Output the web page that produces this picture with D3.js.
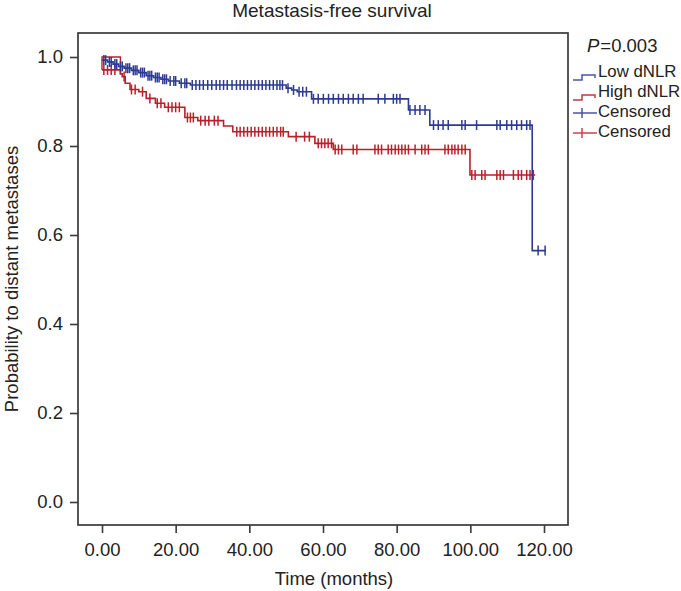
<!DOCTYPE html>
<html><head><meta charset="utf-8">
<script src="https://cdn.jsdelivr.net/npm/d3@7"></script>
<style>body{margin:0;background:#fff}svg{display:block}text{font-family:"Liberation Sans",Arial,sans-serif;fill:#222}</style>
</head><body><svg id="c" width="681" height="591"></svg>
<script>
// ---- data ----
const xTicks = [0, 20, 40, 60, 80, 100, 120];
const yTicks = [0, 0.2, 0.4, 0.6, 0.8, 1.0];
// Low dNLR: [time, survival]
const lowSteps = [[0,0.993],[1.5,0.989],[3,0.984],[4.5,0.979],[6,0.975],[8,0.970],[10,0.965],[12,0.958],[14,0.954],[16,0.950],[18,0.946],[21,0.941],[24,0.937],[50,0.930],[51.5,0.926],[53,0.922],[56.9,0.906],[83.2,0.881],[89,0.847],[116.8,0.565]];
const lowEnd = 120.5;
const lowCensor = [0.5,1,2,2.5,3.5,4,5,5.5,6.5,7,7.5,8.5,9,9.5,10.5,11,11.5,12.5,13,13.5,14.5,15,15.5,16.5,17,17.5,18.5,19.5,20,21.5,22.5,23,
  24.5,25.5,26.5,27.5,28.7,29.8,31,32,33,34,35.3,36.5,37.5,38.5,39.5,40.5,41.5,42.5,43.5,44.5,45.5,46.5,47.5,48.3,49,50.5,52,53.5,54.5,55.5,
  57.4,58.7,60.1,61.5,62.8,64.2,65.5,66.9,68.2,69.6,70.9,75.0,76.8,79.1,80.0,80.9,
  83.6,85.0,86.3,87.7,90.0,91.3,92.6,94.0,97.7,98.6,101.7,107.2,108.1,109.9,111.2,112.6,113.9,115.3,116.2,118.4,120.3];
// High dNLR
const highStart = 1.0, highStartEnd = 5;
const highSteps = [[0,0.971],[5,0.962],[5.5,0.956],[6.3,0.941],[7.6,0.927],[10,0.922],[12,0.907],[14.5,0.896],[17,0.887],[22.5,0.864],[26,0.857],[33,0.845],[35.5,0.832],[50.6,0.821],[57.8,0.806],[62.8,0.792],[99.9,0.735]];
const highEnd = 117.6;
const highCensor = [0.5,1.5,2.5,3.5,6,8,9,11,13,15,16,18,19,20,21,23.2,24,24.8,26.8,28,29,30.5,31.5,
  36.6,37.5,38.5,39.5,40.5,41.5,42.5,43.5,44.5,45.5,46.5,47.5,48.5,49.2,52.7,55,56.3,58.7,59.6,60.5,61.4,62.3,
  63.3,64.2,65.1,68.2,69.2,74.1,75.0,75.9,77.7,78.6,79.6,80.5,81.4,82.3,83.2,85.0,86.8,87.7,88.6,93.1,94.0,95.0,95.8,96.7,97.7,98.6,
  100.4,101.3,103.1,104.0,107.2,108.1,109.0,111.7,113.0,113.9,115.3,116.2,117.1];
const legendItems = ["Low dNLR", "High dNLR", "Censored", "Censored"];
const pValue = "0.003";

// ---- drawing ----
const svg = d3.select("#c");
const x = d3.scaleLinear().domain([0, 120]).range([102, 544]);
const y = d3.scaleLinear().domain([0, 1]).range([502, 57]);
const box = {l: 78, t: 33, r: 568, b: 525};
const blue = "#2d3a92", red = "#bb1f2b";

svg.append("rect").attr("x", box.l).attr("y", box.t).attr("width", box.r - box.l).attr("height", box.b - box.t)
  .attr("fill", "none").attr("stroke", "#3a3a3a").attr("stroke-width", 1.7);

const gx = svg.append("g").attr("transform", `translate(0,${box.b})`)
  .call(d3.axisBottom(x).tickValues(xTicks).tickFormat(d3.format(".2f")).tickSize(8).tickPadding(10));
const gy = svg.append("g").attr("transform", `translate(${box.l},0)`)
  .call(d3.axisLeft(y).tickValues(yTicks).tickFormat(d3.format(".1f")).tickSize(8).tickPadding(7));
[gx, gy].forEach(g => {
  g.select(".domain").remove();
  g.selectAll("line").attr("stroke", "#3a3a3a").attr("stroke-width", 1.6);
  g.selectAll("text").attr("font-size", 18.5).attr("fill", "#222").style("font-family", '"Liberation Sans",Arial,sans-serif');
});

svg.append("text").attr("x", 332).attr("y", 17).attr("text-anchor", "middle").attr("font-size", 19).text("Metastasis-free survival");
svg.append("text").attr("x", 334).attr("y", 585).attr("text-anchor", "middle").attr("font-size", 18.5).text("Time (months)");
svg.append("text").attr("transform", "translate(18,279) rotate(-90)").attr("text-anchor", "middle").attr("font-size", 18.5).text("Probability to distant metastases");

function stepPath(steps, end) {
  let p = `M${x(steps[0][0])},${y(steps[0][1])}`;
  for (let i = 1; i < steps.length; i++) p += `H${x(steps[i][0])}V${y(steps[i][1])}`;
  return p + `H${x(end)}`;
}
function survAt(steps, t) {
  let s = steps[0][1];
  for (const st of steps) if (st[0] <= t) s = st[1];
  return s;
}
function drawCurve(steps, end, censor, color) {
  svg.append("path").attr("d", stepPath(steps, end)).attr("fill", "none").attr("stroke", color).attr("stroke-width", 1.6);
  svg.append("g").selectAll("line").data(censor).join("line")
    .attr("x1", d => x(d)).attr("x2", d => x(d))
    .attr("y1", d => y(survAt(steps, d)) - 5).attr("y2", d => y(survAt(steps, d)) + 5)
    .attr("stroke", color).attr("stroke-width", 1.5);
}
// High dNLR initial box
svg.append("path").attr("d", `M${x(0)},${y(highSteps[0][1])}V${y(highStart)}H${x(highStartEnd)}V${y(highSteps[1][1])}`)
  .attr("fill", "none").attr("stroke", red).attr("stroke-width", 1.4);
drawCurve(highSteps, highEnd, highCensor, red);
drawCurve(lowSteps, lowEnd, lowCensor, blue);

// legend
const lg = svg.append("g");
const pt = lg.append("text").attr("x", 587).attr("y", 52).attr("font-size", 18.5);
pt.append("tspan").attr("font-style", "italic").text("P");
pt.append("tspan").attr("dx", 1).text("=" + pValue);
const lgColors = ["#4a55a8", "#c23a40", "#4a55a8", "#d0404a"];
legendItems.forEach((name, i) => {
  const by = 77 + i * 20;
  lg.append("text").attr("x", 598).attr("y", by).attr("font-size", 16.8).text(name);
  if (i < 2) {
    lg.append("path").attr("d", `M573,${by + 3}H582V${by - 2}H595V${by + 1}`).attr("fill", "none")
      .attr("stroke", lgColors[i]).attr("stroke-width", 1.5);
  } else {
    lg.append("line").attr("x1", 573).attr("x2", 597).attr("y1", by - 4).attr("y2", by - 4).attr("stroke", lgColors[i]).attr("stroke-width", 1.5);
    lg.append("line").attr("x1", 582).attr("x2", 582).attr("y1", by - 9).attr("y2", by + 1).attr("stroke", lgColors[i]).attr("stroke-width", 1.5);
  }
});
</script></body></html>
